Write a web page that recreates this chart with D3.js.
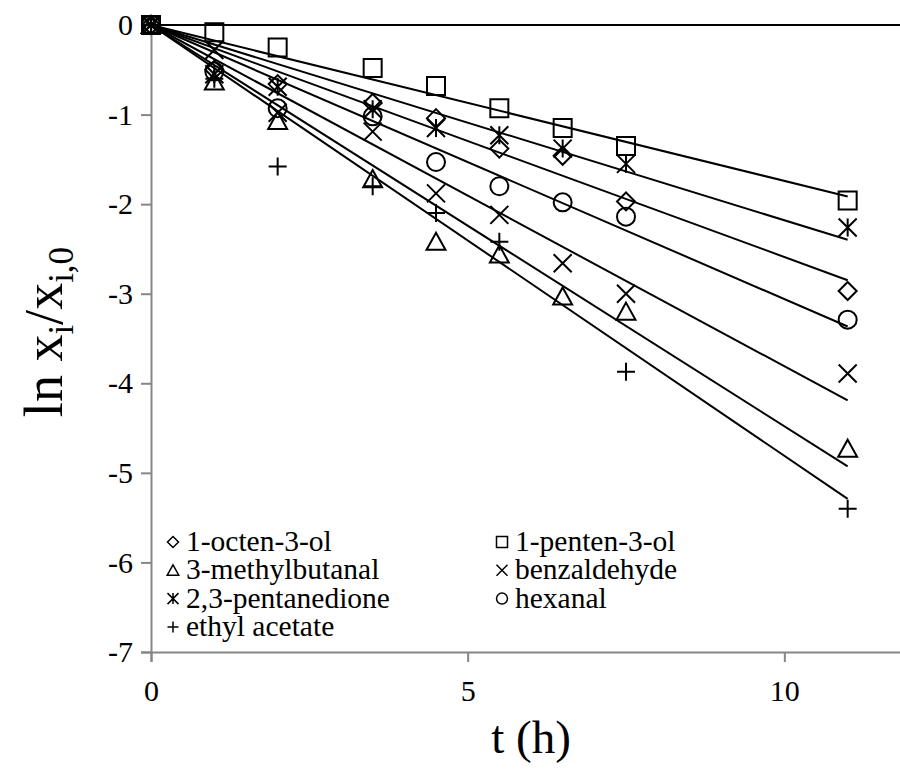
<!DOCTYPE html>
<html>
<head>
<meta charset="utf-8">
<script src="https://cdn.jsdelivr.net/npm/d3@7"></script>
<style>
  body { margin: 0; background: #fff; }
  text { font-family: "Liberation Serif", "Times New Roman", serif; }
</style>
</head>
<body>
<div id="chart-area"></div>
<script>
// sampling times (h)
var times = [0, 1, 2, 3.5, 4.5, 5.5, 6.5, 7.5, 11];

// ln(x/x0), one array per compound
var octenol      = [0, -0.50, -0.66, -0.87, -1.04, -1.38, -1.46, -1.97, -2.97];
var pentenol     = [0, -0.08, -0.25, -0.48, -0.68, -0.93, -1.15, -1.35, -1.96];
var methylbutanal= [0, -0.63, -1.07, -1.72, -2.42, -2.56, -3.03, -3.20, -4.73];
var benzaldehyde = [0, -0.28, -0.98, -1.19, -1.88, -2.12, -2.66, -3.00, -3.89];
var pentanedione = [0, -0.55, -0.69, -0.94, -1.15, -1.23, -1.38, -1.55, -2.26];
var hexanal      = [0, -0.52, -0.93, -1.02, -1.53, -1.80, -1.98, -2.14, -3.29];
var ethylAcetate = [0, -0.60, -1.58, -1.80, -2.10, -2.42, null, -3.87, -5.40];

// slopes of the fitted lines through the origin
var slopes = [-0.259, -0.174, -0.448, -0.381, -0.218, -0.306, -0.481];

var names   = ["1-octen-3-ol", "1-penten-3-ol", "3-methylbutanal", "benzaldehyde",
               "2,3-pentanedione", "hexanal", "ethyl acetate"];
var symbols = ["diamond", "square", "triangle", "x", "asterisk", "circle", "plus"];
var seriesValues = [octenol, pentenol, methylbutanal, benzaldehyde, pentanedione, hexanal, ethylAcetate];

var xTicks = [0, 5, 10];
var yTicks = [0, -1, -2, -3, -4, -5, -6, -7];
var fitEnd = 11;

var svgWidth = 900, svgHeight = 779;
var margin = { top: 25, left: 151, bottom: 127, right: -11 };
var width  = svgWidth - margin.left - margin.right;
var height = svgHeight - margin.top - margin.bottom;

var svg = d3.select("#chart-area")
            .append("svg")
            .attr("width", svgWidth)
            .attr("height", svgHeight);

var g = svg.append("g")
           .attr("transform", "translate(" + margin.left + "," + margin.top + ")");

var x = d3.scaleLinear().domain([0, 12]).range([0, width]);
var y = d3.scaleLinear().domain([-7, 0]).range([height, 0]);

var axisColor = "#868686";

// y axis (plain hyphen for negatives, like the original)
var yAxis = g.append("g")
             .call(d3.axisLeft(y).tickValues(yTicks).tickSize(10).tickPadding(8)
                     .tickFormat((d) => String(d)));
yAxis.select(".domain").attr("stroke", axisColor).attr("stroke-width", 2);
yAxis.selectAll(".tick line").attr("stroke", axisColor).attr("stroke-width", 2);
yAxis.selectAll("text").attr("font-size", 30).attr("fill", "#000")
     .attr("font-family", "Liberation Serif");

// x axis at the bottom
var xAxis = g.append("g")
             .attr("transform", "translate(0," + height + ")")
             .call(d3.axisBottom(x).tickValues(xTicks).tickSize(10).tickPadding(18)
                     .tickFormat((d) => String(d)));
xAxis.select(".domain").attr("stroke", axisColor).attr("stroke-width", 2);
xAxis.selectAll(".tick line").attr("stroke", axisColor).attr("stroke-width", 2);
xAxis.selectAll("text").attr("font-size", 30).attr("fill", "#000")
     .attr("font-family", "Liberation Serif");

// zero line
g.append("line")
 .attr("x1", x(0)).attr("x2", x(12))
 .attr("y1", y(0)).attr("y2", y(0))
 .attr("stroke", "#000").attr("stroke-width", 2);

// fitted lines
g.selectAll(".fit")
 .data(slopes)
 .enter()
 .append("line")
 .attr("class", "fit")
 .attr("x1", x(0)).attr("y1", y(0))
 .attr("x2", x(fitEnd))
 .attr("y2", (d) => y(d * fitEnd))
 .attr("stroke", "#000")
 .attr("stroke-width", 2);

// marker shapes, centred on 0,0
function markerPath(type, r) {
    switch (type) {
        case "square":
            return "M" + (-r) + "," + (-r) + "H" + r + "V" + r + "H" + (-r) + "Z";
        case "diamond":
            return "M0," + (-r) + "L" + r + ",0L0," + r + "L" + (-r) + ",0Z";
        case "triangle":
            return "M0," + (-r) + "L" + (r * 1.05) + "," + (r * 0.9) + "L" + (-r * 1.05) + "," + (r * 0.9) + "Z";
        case "circle":
            return "M" + (-r) + ",0A" + r + "," + r + " 0 1,0 " + r + ",0A" + r + "," + r + " 0 1,0 " + (-r) + ",0Z";
        case "x":
            return "M" + (-r) + "," + (-r) + "L" + r + "," + r + "M" + r + "," + (-r) + "L" + (-r) + "," + r;
        case "asterisk":
            return "M" + (-r) + "," + (-r) + "L" + r + "," + r + "M" + r + "," + (-r) + "L" + (-r) + "," + r +
                   "M0," + (-r) + "V" + r;
        case "plus":
            return "M" + (-r) + ",0H" + r + "M0," + (-r) + "V" + r;
    }
}

// points
seriesValues.forEach((vals, i) => {
    var pts = times.map((t, j) => ({ t: t, v: vals[j] })).filter((d) => d.v !== null);
    g.selectAll(".pt" + i)
     .data(pts)
     .enter()
     .append("path")
     .attr("class", "pt" + i)
     .attr("transform", (d) => "translate(" + x(d.t) + "," + y(d.v) + ")")
     .attr("d", markerPath(symbols[i], 9))
     .attr("fill", "none")
     .attr("stroke", "#000")
     .attr("stroke-width", 2);
});

// legend
var legend = svg.append("g");
var legendCols = [173, 502];
var legendRow0 = 542, legendRowStep = 28.3;
names.forEach((name, i) => {
    var cx = legendCols[i % 2];
    var cy = legendRow0 + Math.floor(i / 2) * legendRowStep;
    legend.append("path")
          .attr("transform", "translate(" + cx + "," + cy + ")")
          .attr("d", markerPath(symbols[i], 5.5))
          .attr("fill", "none")
          .attr("stroke", "#000")
          .attr("stroke-width", 1.5);
    legend.append("text")
          .attr("x", cx + 13)
          .attr("y", cy + 9)
          .attr("font-size", 29.5)
          .text(name);
});

// axis titles
svg.append("text")
   .attr("x", 531)
   .attr("y", 753)
   .attr("text-anchor", "middle")
   .attr("font-size", 47)
   .text("t (h)");

var yTitle = svg.append("text")
   .attr("transform", "translate(62, 332) rotate(-90)")
   .attr("text-anchor", "middle")
   .attr("font-size", 54);
yTitle.append("tspan").text("ln x");
yTitle.append("tspan").attr("font-size", 35).attr("dy", 11).text("i");
yTitle.append("tspan").attr("dy", -11).text("/x");
yTitle.append("tspan").attr("font-size", 35).attr("dy", 11).text("i,0");
</script>
</body>
</html>
